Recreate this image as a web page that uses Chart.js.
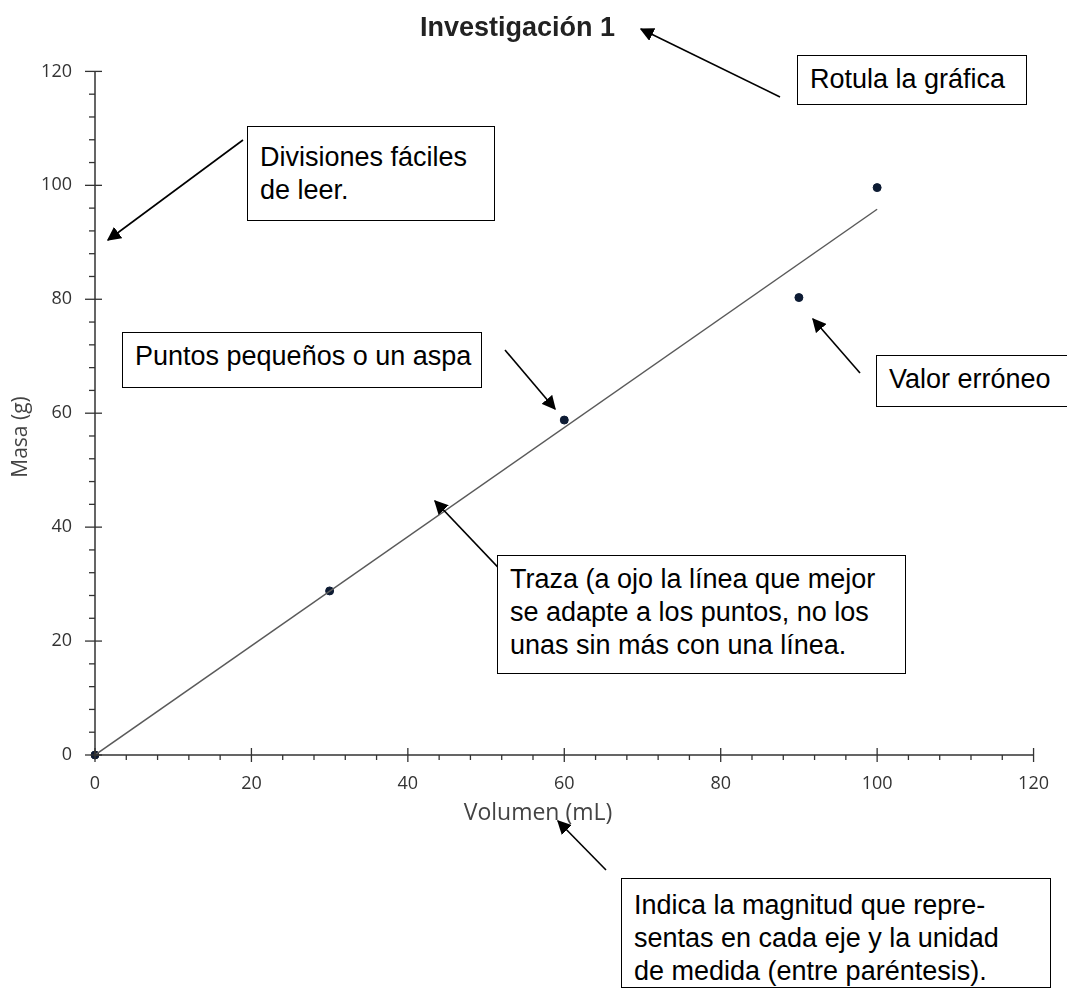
<!DOCTYPE html>
<html>
<head>
<meta charset="utf-8">
<script src="https://cdn.jsdelivr.net/npm/chart.js@4.4.0/dist/chart.umd.min.js"></script>
<style>
html, body { margin: 0; padding: 0; background: #fff; }
#wrap { position: relative; width: 1067px; height: 990px; overflow: hidden; }
#wrap canvas { position: absolute; left: 0; top: 0; }
#flechas { position: absolute; left: 0; top: 0; }
.nota {
    position: absolute; box-sizing: border-box; border: 1.5px solid #000; background: #fff;
    font-family: "Liberation Sans", Arial, sans-serif; font-size: 27px; line-height: 33px;
    color: #000; padding: 7px 12px; white-space: nowrap;
}
</style>
</head>
<body>
<div id="wrap">
    <canvas id="grafica" width="1067" height="990"></canvas>
    <svg id="flechas" width="1067" height="990">
        <defs>
            <marker id="punta" viewBox="0 0 10 10" refX="9" refY="5" markerWidth="14" markerHeight="14" markerUnits="userSpaceOnUse" orient="auto">
                <path d="M0,0 L10,5 L0,10 z" fill="#000"/>
            </marker>
        </defs>
        <line x1="780" y1="97" x2="641" y2="29" stroke="#000" stroke-width="1.6" marker-end="url(#punta)"/>
        <line x1="243" y1="140" x2="108" y2="240" stroke="#000" stroke-width="1.6" marker-end="url(#punta)"/>
        <line x1="505" y1="350" x2="555" y2="409" stroke="#000" stroke-width="1.6" marker-end="url(#punta)"/>
        <line x1="860" y1="373" x2="813" y2="319" stroke="#000" stroke-width="1.6" marker-end="url(#punta)"/>
        <line x1="510" y1="580" x2="435" y2="501" stroke="#000" stroke-width="1.6" marker-end="url(#punta)"/>
        <line x1="606" y1="870" x2="558" y2="821" stroke="#000" stroke-width="1.6" marker-end="url(#punta)"/>
    </svg>
    <div class="nota" style="left:797px;top:55px;width:230px;height:50px;">Rotula la gráfica</div>
    <div class="nota" style="left:247px;top:126px;width:248px;height:95px;padding-top:14px;">Divisiones fáciles<br>de leer.</div>
    <div class="nota" style="left:122px;top:332px;width:360px;height:56px;">Puntos pequeños o un aspa</div>
    <div class="nota" style="left:876px;top:355px;width:200px;height:52px;">Valor erróneo</div>
    <div class="nota" style="left:497px;top:555px;width:409px;height:119px;">Traza (a ojo la línea que mejor<br>se adapte a los puntos, no los<br>unas sin más con una línea.</div>
    <div class="nota" style="left:621px;top:878px;width:430px;height:110px;padding-top:10px;">Indica la magnitud que repre-<br>sentas en cada eje y la unidad<br>de medida (entre paréntesis).</div>
</div>
<script>
// valores
const volumen = [0, 30, 60, 90, 100];
const masa = [0, 28.8, 58.8, 80.3, 99.6];
// recta trazada a ojo
const rectaX = [0, 100];
const rectaY = [0, 95.8];
const ticksX = [0, 20, 40, 60, 80, 100, 120];
const ticksY = [0, 20, 40, 60, 80, 100, 120];
const tituloX = 'Volumen (mL)';
const tituloY = 'Masa (g)';

const colorEje = '#333';

// ejes: marcas principales cruzan el eje, secundarias hacia fuera; títulos de ejes
const marcasEjes = {
    id: 'marcasEjes',
    afterDraw(chart) {
        const ctx = chart.ctx;
        const x = chart.scales.x, y = chart.scales.y;
        const x0 = x.getPixelForValue(0), y0 = y.getPixelForValue(0);
        ctx.save();
        ctx.strokeStyle = colorEje;
        ctx.lineWidth = 1.5;
        ctx.beginPath();
        ctx.moveTo(x0, y.getPixelForValue(ticksY[ticksY.length - 1]));
        ctx.lineTo(x0, y0);
        ctx.lineTo(x.getPixelForValue(ticksX[ticksX.length - 1]), y0);
        ctx.stroke();
        ctx.lineWidth = 1.3;
        for (let v = x.min; v <= x.max; v += 4) {
            const px = x.getPixelForValue(v);
            const mayor = ticksX.includes(v);
            ctx.beginPath();
            ctx.moveTo(px, mayor ? y0 - 7 : y0);
            ctx.lineTo(px, mayor ? y0 + 7 : y0 + 5);
            ctx.stroke();
        }
        for (let v = y.min; v <= y.max; v += 4) {
            const py = y.getPixelForValue(v);
            const mayor = ticksY.includes(v);
            ctx.beginPath();
            ctx.moveTo(mayor ? x0 - 10 : x0 - 6, py);
            ctx.lineTo(mayor ? x0 + 7 : x0, py);
            ctx.stroke();
        }

        ctx.fillStyle = '#444';
        ctx.textAlign = 'center';
        ctx.textBaseline = 'middle';
        ctx.font = '23px "Open Sans"';
        ctx.fillText(tituloX, 538, 813);
        ctx.translate(21, 437);
        ctx.rotate(-Math.PI / 2);
        ctx.font = '21px "Open Sans"';
        ctx.fillText(tituloY, 0, 0);
        ctx.restore();
    }
};

new Chart(document.getElementById('grafica').getContext('2d'), {
    type: 'scatter',
    data: {
        datasets: [{
            label: 'Recta',
            data: rectaX.map((v, i) => ({x: v, y: rectaY[i]})),
            showLine: true,
            borderColor: '#5a5a5a',
            borderWidth: 1.5,
            pointRadius: 0
        }, {
            label: 'Datos',
            data: volumen.map((v, i) => ({x: v, y: masa[i]})),
            backgroundColor: '#0d1b33',
            borderColor: '#0d1b33',
            pointRadius: 4,
            clip: false
        }]
    },
    options: {
        responsive: false,
        animation: false,
        layout: { padding: { left: 0, right: 32, top: 0, bottom: 155 } },
        plugins: {
            legend: { display: false },
            tooltip: { enabled: false },
            title: {
                display: true,
                text: 'Investigación 1',
                color: '#222',
                font: { family: '"Liberation Sans", Arial', size: 27, weight: 'bold' },
                padding: { top: 12, bottom: 27 }
            }
        },
        scales: {
            x: {
                type: 'linear', min: 0, max: 120,
                afterFit: s => { s.height = 80; },
                afterBuildTicks: s => { s.ticks = ticksX.map(v => ({value: v})); },
                grid: { display: false, drawTicks: false },
                border: { display: false },
                ticks: { color: '#333', padding: 18, font: { family: '"Open Sans"', size: 18 } }
            },
            y: {
                type: 'linear', min: 0, max: 120,
                afterFit: s => { s.width = 95; },
                afterBuildTicks: s => { s.ticks = ticksY.map(v => ({value: v})); },
                grid: { display: false, drawTicks: false },
                border: { display: false },
                ticks: { color: '#333', padding: 23, font: { family: '"Open Sans"', size: 18 } }
            }
        }
    },
    plugins: [marcasEjes]
});
</script>
</body>
</html>
